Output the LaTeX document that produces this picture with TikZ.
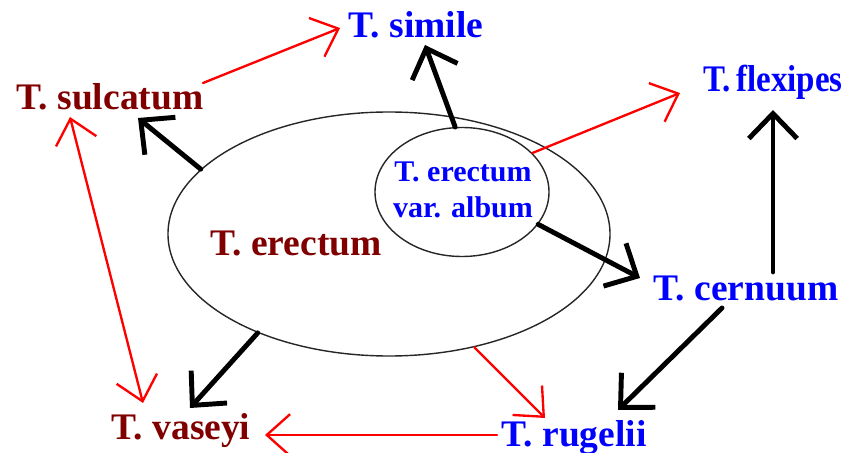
\documentclass[tikz,border=0pt]{standalone}
\usepackage{fontspec}
\setmainfont{Liberation Serif}
\usepackage{tikz}
\usetikzlibrary{shapes,arrows.meta,positioning,calc}
\usepackage{xcolor}
\definecolor{maroonsp}{RGB}{128,0,0}
\definecolor{bluesp}{RGB}{0,0,255}

\tikzset{
    blackbarb/.tip={Straight Barb[length=0.75cm,width=1.45cm]},
    redbarb/.tip={Straight Barb[length=0.7cm,width=1.25cm]},
    species/.style={font=\bfseries\fontsize{32}{38}\selectfont, inner sep=0pt, text height=22.4pt, text depth=6.4pt},
    descent/.style={line width=4.2pt, line cap=round, -blackbarb},
    cross/.style={draw=red, line width=2pt, line cap=round, -redbarb},
    rangeline/.style={draw=black!85, line width=1.2pt, ellipse, inner sep=0pt}
}

\begin{document}
\begin{tikzpicture}[x=0.03cm, y=-0.03cm]
    \useasboundingbox (0,0) rectangle (854,453);

    % Ranges
    \node[rangeline, minimum width=13.26cm, minimum height=7.32cm] (erectum) at (389,234) {};
    \node[rangeline, minimum width=5.22cm, minimum height=3.87cm] (album) at (462,192) {};
    \node[species, text=maroonsp] (erectumtxt) at (296,246) {T. erectum};
    \node[font=\bfseries\fontsize{25.6}{30.7}\selectfont, text=bluesp, align=center, inner sep=0pt] (albumtxt) at (463,190) {T. erectum\\var. album};

    % Species
    \node[species, text=bluesp] (simile) at (416,28) {T. simile};
    \node[species, text=maroonsp] (sulcatum) at (110,100) {T. sulcatum};
    \node[species, text=bluesp] (flexipes) at (773,82) {\scalebox{0.88}[1]{T.\,flexipes}};
    \node[species, text=bluesp] (cernuum) at (746,291) {T. cernuum};
    \node[species, text=bluesp] (rugelii) at (574,437) {T. rugelii};
    \node[species, text=maroonsp] (vaseyi) at (181,430) {T. vaseyi};

    % Black arrows
    \draw[descent] (erectum.161.7) -- ([shift={(28,18)}]sulcatum.center);
    \draw[descent] (album.96.2) -- ([shift={(9,17)}]simile.center);
    \draw[descent] (album.337) -- ([shift={(-106,-13)}]cernuum.center);
    \draw[descent] (erectum.217.9) -- ([shift={(9,-22)}]vaseyi.center);
    \draw[descent] ([shift={(-24,17)}]cernuum.center) -- ([shift={(44,-27)}]rugelii.center);
    \draw[descent] ([shift={(27,-19)}]cernuum.center) -- ([shift={(0,28)}]flexipes.center);

    % Red arrows
    \draw[cross] ([shift={(93,-17)}]sulcatum.center) -- ([shift={(-76,0)}]simile.center);
    \draw[cross] (album.29.8) -- ([shift={(-93,11)}]flexipes.center);
    \draw[cross, redbarb-redbarb] ([shift={(-40,17)}]sulcatum.center) -- ([shift={(-38,-27)}]vaseyi.center);
    \draw[cross] (erectum.307.5) -- ([shift={(-29,-19)}]rugelii.center);
    \draw[cross] ([shift={(-77,-2)}]rugelii.center) -- ([shift={(84,5)}]vaseyi.center);
\end{tikzpicture}
\end{document}
